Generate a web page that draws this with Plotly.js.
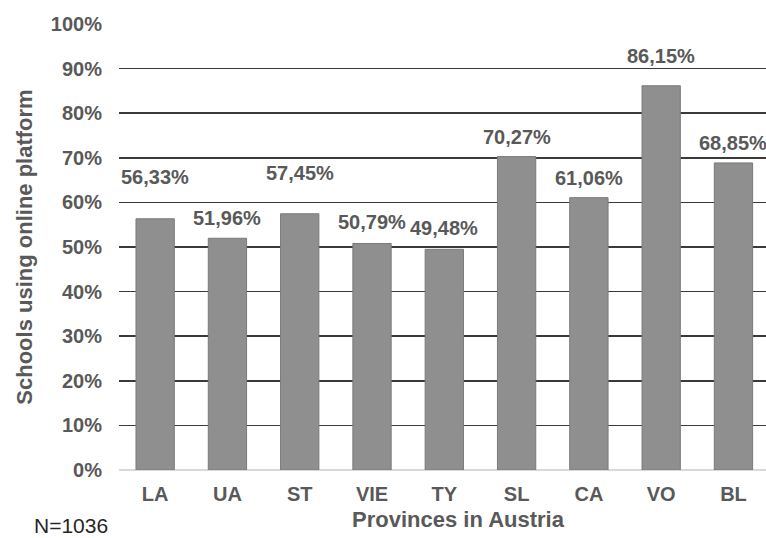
<!DOCTYPE html>
<html>
<head>
<meta charset="utf-8">
<script src="https://cdn.plot.ly/plotly-3.0.1.min.js"></script>
<style>
  html, body { margin: 0; padding: 0; background: #fff; }
  #chart { width: 766px; height: 538px; }
</style>
</head>
<body>
<div id="chart"></div>
<script>
// Share of schools using an online platform, per province
const provinces = ['LA', 'UA', 'ST', 'VIE', 'TY', 'SL', 'CA', 'VO', 'BL'];
const shares = [56.33, 51.96, 57.45, 50.79, 49.48, 70.27, 61.06, 86.15, 68.85];
// how far (px) each value label sits above its bar, as placed in the original
const labelLift = [42, 20, 41, 21, 21, 20, 20, 30, 20];

const grey = '#595959';
const font = 'Liberation Sans, Arial, sans-serif';

const labels = provinces.map((p, i) => ({
    x: p,
    y: shares[i],
    xref: 'x',
    yref: 'y',
    text: shares[i].toFixed(2).replace('.', ',') + '%',
    showarrow: false,
    yanchor: 'middle',
    yshift: labelLift[i],
    font: { family: font, size: 20, color: grey, weight: 'bold' }
}));

// x axis title sits a little right of the plot centre in the original
labels.push({
    xref: 'paper', yref: 'paper',
    x: 0.5255, y: -0.112,
    xanchor: 'center', yanchor: 'middle',
    text: 'Provinces in Austria', showarrow: false,
    font: { family: font, size: 22, color: grey, weight: 'bold' }
});

// sample size note, bottom left
labels.push({
    xref: 'paper', yref: 'paper',
    x: -0.1345, y: -0.1255,
    xanchor: 'left', yanchor: 'middle',
    text: 'N=1036', showarrow: false,
    font: { family: font, size: 21, color: '#262626' }
});

const data = [{
    type: 'bar',
    x: provinces,
    y: shares,
    marker: {
        color: '#8f8f8f',
        line: { color: '#7a7a7a', width: 1 }
    },
    hoverinfo: 'skip'
}];

const layout = {
    width: 766,
    height: 538,
    margin: { l: 119, r: 0, t: 24, b: 68 },
    paper_bgcolor: '#ffffff',
    plot_bgcolor: '#ffffff',
    bargap: 0.47,
    showlegend: false,
    xaxis: {
        range: [-0.5, 8.45],
        showgrid: false,
        zeroline: false,
        showline: false,
        ticks: '',
        ticklabelstandoff: 10,
        tickfont: { family: font, size: 20, color: grey, weight: 'bold' }
    },
    yaxis: {
        range: [0, 100],
        dtick: 10,
        ticksuffix: '%',
        showgrid: true,
        gridcolor: '#3a3a3a',
        gridwidth: 1.5,
        zeroline: true,
        zerolinecolor: '#d9d9d9',
        zerolinewidth: 1.5,
        showline: false,
        ticks: '',
        ticklabelstandoff: 16,
        tickfont: { family: font, size: 20, color: grey, weight: 'bold' },
        title: {
            text: 'Schools using online platform',
            standoff: 12,
            font: { family: font, size: 22, color: grey, weight: 'bold' }
        }
    },
    annotations: labels
};

Plotly.newPlot('chart', data, layout, { displayModeBar: false, staticPlot: true });
</script>
</body>
</html>
